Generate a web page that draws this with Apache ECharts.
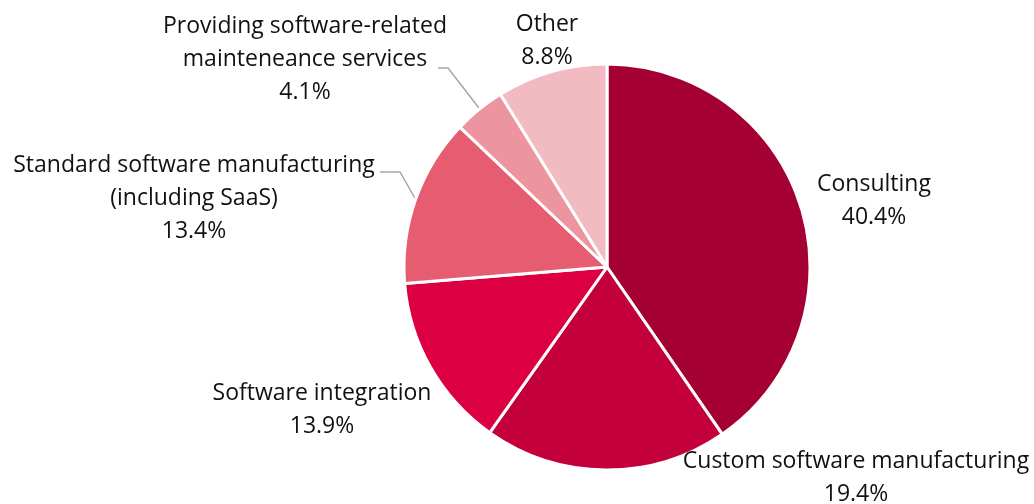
<!DOCTYPE html>
<html>
<head>
<meta charset="utf-8">
<script src="https://cdn.jsdelivr.net/npm/echarts@6/dist/echarts.min.js"></script>
<style>
  html, body { margin: 0; padding: 0; background: #fff; }
  #main { width: 1034px; height: 504px; }
</style>
</head>
<body>
<div id="main"></div>
<script>
// data
const categories = [
  'Consulting',
  'Custom software manufacturing',
  'Software integration',
  'Standard software manufacturing\n(including SaaS)',
  'Providing software-related\nmainteneance services',
  'Other'
];
const shares = [40.4, 19.4, 13.9, 13.4, 4.1, 8.8];
const colors = ['#A50034', '#C4003C', '#DC0042', '#E65C71', '#EC959F', '#F2BBC2'];

// where each label sits (centre of text block)
const labelPos = [
  [874, 201],
  [856, 478],
  [322, 410],
  [194, 198],
  [305, 59],
  [547, 41]
];
// leader lines for the two small slices on the left (null = none)
const leaderPts = [
  null, null, null,
  [[380, 172], [400, 172], [416, 200]],
  [[438, 68], [448, 68], [479, 108]],
  null
];

let chart = echarts.init(document.getElementById('main'));

chart.setOption({
  animation: false,
  series: [{
    type: 'pie',
    center: [607, 267],
    radius: 203,
    startAngle: 90,
    clockwise: true,
    itemStyle: {
      borderColor: '#fff',
      borderWidth: 3
    },
    label: {
      show: true,
      formatter: function (p) {
        return p.name + '\n' + p.value.toFixed(1) + '%';
      },
      fontFamily: 'Open Sans',
      fontSize: 23,
      lineHeight: 33,
      color: '#111',
      align: 'center',
      overflow: 'none'
    },
    labelLine: {
      show: false,
      lineStyle: { color: '#a6a6a6', width: 1.5 }
    },
    labelLayout: function (params) {
      let i = params.dataIndex;
      let p = labelPos[i];
      let res = {
        x: p[0],
        y: p[1],
        align: 'center',
        verticalAlign: 'middle'
      };
      if (leaderPts[i]) res.labelLinePoints = leaderPts[i];
      return res;
    },
    data: categories.map(function (name, i) {
      let item = {
        name: name,
        value: shares[i],
        itemStyle: { color: colors[i] }
      };
      if (leaderPts[i]) {
        item.labelLine = { show: true };
      }
      return item;
    })
  }]
});
</script>
</body>
</html>
